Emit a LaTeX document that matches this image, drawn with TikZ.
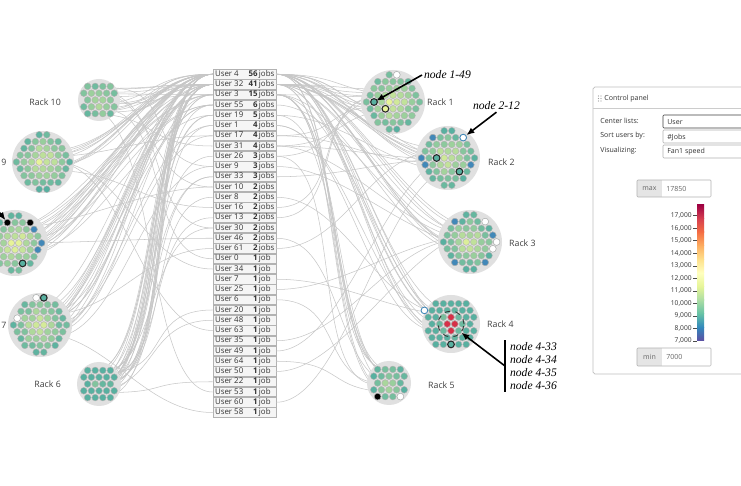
\documentclass[tikz,border=0pt]{standalone}
\usepackage{fontspec}
\setmainfont{Open Sans}
\newfontfamily\annfont{Liberation Serif}
\usepackage{xcolor}
\usepackage{tikz}
\usetikzlibrary{arrows.meta,positioning,calc}
\definecolor{rackbg}{RGB}{224,224,224}
\definecolor{dotY}{RGB}{232,244,152}
\definecolor{dotT}{RGB}{88,176,160}
\definecolor{dotB}{RGB}{66,136,184}
\definecolor{hot}{RGB}{214,48,72}
\definecolor{sp0}{HTML}{5E4FA2}
\definecolor{sp1}{HTML}{3288BD}
\definecolor{sp2}{HTML}{66C2A5}
\definecolor{sp3}{HTML}{ABDDA4}
\definecolor{sp4}{HTML}{E6F598}
\definecolor{sp5}{HTML}{FFFFBF}
\definecolor{sp6}{HTML}{FEE08B}
\definecolor{sp7}{HTML}{FDAE61}
\definecolor{sp8}{HTML}{F46D43}
\definecolor{sp9}{HTML}{D53E4F}
\definecolor{sp10}{HTML}{9E0142}
% rack: center x, center y, radius, dot limit, yellow peak
\newcommand{\drawrack}[5]{%
  \fill[rackbg] (#1,#2) circle (#3);
  \foreach \j in {-4,...,4}{
    \foreach \i in {-4,...,4}{
      \pgfmathsetmacro\dx{(\i+0.5*mod(abs(\j)+1,2))*7.6}
      \pgfmathsetmacro\dy{\j*6.8}
      \pgfmathtruncatemacro\ok{veclen(\dx,\dy)<#4}
      \ifnum\ok=1
        \pgfmathtruncatemacro\p{max(0,min(100,#5-3.4*veclen(\dx,\dy)+14*rand))}
        \draw[dotedge, fill=dotY!\p!dotT] (#1+\dx,#2+\dy) circle (3.35);
      \fi
    }
  }
}
% marked node: name, rack x, rack y, column, row, style
\newcommand{\spot}[6]{%
  \pgfmathsetmacro\sx{#2+(#4+0.5*mod(abs(#5)+1,2))*7.6}
  \pgfmathsetmacro\sy{#3+(#5)*6.8}
  \coordinate (#1) at (\sx,\sy);
  \draw[#6] (#1) circle (3.35);
}

\begin{document}
\begin{tikzpicture}[x=0.02cm, y=-0.02cm,
    wire/.style={draw=black!22, line width=0.3pt},
    rowbox/.style={draw=black!30, fill=black!4, inner xsep=0.04cm, inner ysep=0pt,
      minimum height=0.19cm, text height=3.3pt, text depth=1pt, text=black!80,
      font=\fontsize{4.5}{5}\selectfont},
    dotedge/.style={draw=black!30, line width=0.25pt},
    ringdot/.style={draw=black!85, line width=0.6pt},
    racklabel/.style={font=\fontsize{5}{6}\selectfont, text=black!75},
    ann/.style={font=\annfont\itshape\fontsize{6.6}{7.4}\selectfont, inner sep=1pt},
    pointer/.style={-{Latex[length=0.16cm,width=0.13cm]}, line width=0.9pt},
    panel/.style={font=\fontsize{4}{5}\selectfont, text=black!80, inner sep=0pt},
    field/.style={draw=black!30, rounded corners=0.5pt, line width=0.3pt}]

    \useasboundingbox (0,0) rectangle (741,486);
    \clip (0,0) rectangle (741,486);
    \fill[white] (0,0) rectangle (741,486);

    % Rack positions
    \foreach \n/\x/\y in {1/393/102, 2/448/158, 3/470/242, 4/451/324, 5/389/383,
                          6/99/384, 7/40/325, 8/15/243, 9/43/162, 10/99/100}
        \coordinate (r\n) at (\x,\y);

    % User list
    \foreach \usr/\njob/\word [count=\row] in {4/56/jobs, 32/41/jobs, 3/15/jobs, 55/6/jobs,
        19/5/jobs, 1/4/jobs, 17/4/jobs, 31/4/jobs, 26/3/jobs, 9/3/jobs, 33/3/jobs,
        10/2/jobs, 8/2/jobs, 16/2/jobs, 13/2/jobs, 30/2/jobs, 46/2/jobs, 61/2/jobs,
        0/1/job, 34/1/job, 7/1/job, 25/1/job, 6/1/job, 20/1/job, 48/1/job, 63/1/job,
        35/1/job, 49/1/job, 64/1/job, 50/1/job, 22/1/job, 53/1/job, 60/1/job, 58/1/job}
        \node[rowbox] (u\row) at (244.5,{64+10.25*\row})
            {\makebox[1.18cm]{User \usr\hfill\textbf{\njob}\,\makebox[0.3cm][l]{\word}}};

    % Job links (user -> rack)
    \pgfmathsetseed{11}
    \foreach \njob [count=\row] in {56,41,15,6,5,4,4,4,3,3,3,2,2,2,2,2,2,2,
                                    1,1,1,1,1,1,1,1,1,1,1,1,1,1,1,1} {
        \foreach \m in {1,...,\njob} {
            \pgfmathtruncatemacro\rk{random(1,10)}
            \ifnum\rk<6
                \draw[wire] (u\row.east) .. controls +(70,0) and +(-70,0)
                    .. ($(r\rk)+(rand*14,rand*14)$);
            \else
                \draw[wire] (u\row.west) .. controls +(-70,0) and +(70,0)
                    .. ($(r\rk)+(rand*14,rand*14)$);
            \fi
        }
    }

    % Racks
    \drawrack{393}{102}{32}{29}{105}
    \drawrack{448}{158}{32}{29}{95}
    \drawrack{470}{242}{32}{29}{92}
    \drawrack{451}{324}{29}{26.5}{50}
    \drawrack{389}{383}{22}{19}{62}
    \drawrack{99}{384}{22}{19}{35}
    \drawrack{40}{325}{32}{29}{95}
    \drawrack{15}{243}{33}{29}{105}
    \drawrack{43}{162}{31}{28}{100}
    \drawrack{99}{100}{21}{19}{78}

    % Marked nodes
    \spot{n149}{393}{102}{-3}{0}{ringdot, fill=dotT}
    \spot{m11}{393}{102}{-1}{1}{ringdot, fill=dotY}
    \spot{m12}{393}{102}{0}{-4}{dotedge, fill=white}
    \spot{n212}{448}{158}{2}{-3}{draw=dotB, line width=0.5pt, fill=white}
    \spot{m21}{448}{158}{-2}{-3}{dotedge, fill=dotB}
    \spot{m22}{448}{158}{-4}{0}{dotedge, fill=dotB}
    \spot{m23}{448}{158}{-3}{1}{dotedge, fill=dotB}
    \spot{m24}{448}{158}{3}{1}{dotedge, fill=dotB}
    \spot{m25}{448}{158}{-2}{0}{ringdot, fill=dotT}
    \spot{m26}{448}{158}{1}{2}{ringdot, fill=dotT}
    \spot{m31}{470}{242}{2}{-3}{dotedge, fill=white}
    \spot{m32}{470}{242}{3}{0}{dotedge, fill=white}
    \spot{m33}{470}{242}{3}{1}{dotedge, fill=white}
    \spot{m34}{470}{242}{-2}{-3}{dotedge, fill=dotB}
    \spot{m35}{470}{242}{3}{-1}{dotedge, fill=dotB}
    \spot{m36}{470}{242}{-2}{3}{dotedge, fill=dotB}
    \spot{m37}{470}{242}{2}{3}{dotedge, fill=dotB}
    \spot{n433}{451}{324}{0}{-1}{dotedge, fill=hot}
    \spot{n434}{451}{324}{-1}{0}{dotedge, fill=hot}
    \spot{n435}{451}{324}{0}{0}{dotedge, fill=hot}
    \spot{n436}{451}{324}{0}{1}{dotedge, fill=hot}
    \spot{m41}{451}{324}{-4}{-2}{draw=dotB, line width=0.5pt, fill=white}
    \spot{m42}{451}{324}{0}{3}{ringdot, fill=dotT}
    \spot{m51}{389}{383}{-2}{2}{dotedge, fill=black}
    \spot{m52}{389}{383}{1}{2}{dotedge, fill=white}
    \spot{m71}{40}{325}{-1}{-4}{dotedge, fill=white}
    \spot{m72}{40}{325}{0}{-4}{ringdot, fill=dotT}
    \spot{m73}{40}{325}{-3}{-1}{dotedge, fill=white}
    \spot{n8a}{15}{243}{-1}{-3}{dotedge, fill=black}
    \spot{n8b}{15}{243}{2}{-3}{dotedge, fill=black}
    \spot{m81}{15}{243}{2}{-2}{dotedge, fill=dotB}
    \spot{m82}{15}{243}{3}{0}{dotedge, fill=dotB}
    \spot{m83}{15}{243}{3}{1}{dotedge, fill=dotB}
    \spot{m84}{15}{243}{1}{3}{ringdot, fill=dotT}

    % Rack labels
    \node[racklabel, anchor=west] (lab1) at (421,102) {Rack 1};
    \node[racklabel, anchor=west] (lab2) at (482,162) {Rack 2};
    \node[racklabel, anchor=west] (lab3) at (503,243) {Rack 3};
    \node[racklabel, anchor=west] (lab4) at (481,324) {Rack 4};
    \node[racklabel, anchor=west] (lab5) at (422,385) {Rack 5};
    \node[racklabel, anchor=east] (lab6) at (67,384) {Rack 6};
    \node[racklabel, anchor=west, inner xsep=0pt] (lab7) at (1,325) {7};
    \node[racklabel, anchor=west, inner xsep=0pt] (lab9) at (1,162) {9};
    \node[racklabel, anchor=east] (lab10) at (67,102) {Rack 10};

    % Annotations
    \node[draw=black!80, dashed, line width=0.5pt, circle, minimum size=0.52cm] (hotzone) at (r4) {};
    \node[ann, anchor=west] (l149) at (422,75) {node 1-49};
    \node[ann, anchor=west] (l212) at (471,106) {node 2-12};
    \node[ann, anchor=west, align=left] (l43) at (508,366) {node 4-33\\node 4-34\\node 4-35\\node 4-36};
    \coordinate (tail8) at (-8,203);
    \draw[pointer, shorten >=0.05cm] (l149.west) -- (n149);
    \draw[pointer, shorten >=0.08cm] (l212.south) -- (n212);
    \draw[line width=0.9pt] ([xshift=-0.06cm]l43.north west) -- ([xshift=-0.06cm]l43.south west);
    \draw[pointer] ([xshift=-0.06cm]l43.west) -- (hotzone.-40);
    \draw[pointer, shorten >=0.06cm] (tail8) -- (n8a);

    % Control panel
    \draw[black!25, line width=0.4pt, rounded corners=1pt] (593,87) rectangle (770,374);
    \draw[black!20, line width=0.3pt] (593,108) -- (770,108);
    \foreach \gx in {598.5,601} \foreach \gy in {96,98.5,101}
        \fill[black!40] (\gx,\gy) circle (0.6);
    \node[panel, anchor=west] (ptitle) at (604,99) {Control panel};
    \node[panel, anchor=west] (pcenter) at (600,121) {Center lists:};
    \node[panel, anchor=west] (psort) at (600,136) {Sort users by:};
    \node[panel, anchor=west] (pvis) at (600,151) {Visualizing:};
    \draw[field, draw=black!75] (663,115) rectangle (770,128);
    \draw[field] (663,130) rectangle (770,143);
    \draw[field] (663,145) rectangle (770,158);
    \node[panel, anchor=west] (fcenter) at (667,122) {User};
    \node[panel, anchor=west] (fsort) at (667,137) {\#Jobs};
    \node[panel, anchor=west] (fvis) at (667,152) {Fan1 speed};

    % max / min boxes
    \fill[black!10] (637,180) rectangle (662,197);
    \draw[field] (637,180) rectangle (711,197);
    \node[panel, text=black!60] (maxl) at (649.5,188.5) {max};
    \node[panel, anchor=west, text=black!60] (maxv) at (666,188.5) {17850};
    \fill[black!10] (637,348) rectangle (662,366);
    \draw[field] (637,348) rectangle (711,366);
    \node[panel, text=black!60] (minl) at (649.5,357) {min};
    \node[panel, anchor=west, text=black!60] (minv) at (666,357) {7000};

    % Colour scale
    \foreach \s in {0,...,9} {
        \pgfmathtruncatemacro\snext{\s+1}
        \shade[bottom color=sp\s, top color=sp\snext]
            (697,{341-\s*13.6}) rectangle (704,{341-\snext*13.6-0.3});
    }
    \foreach \v in {7,...,17} {
        \pgfmathsetmacro\ty{341-(\v-7)*12.53}
        \draw[black!70, line width=0.3pt] (693,\ty) -- (697,\ty);
        \node[panel, anchor=east, font=\fontsize{3.8}{4}\selectfont] (tick\v) at (692,\ty) {\v,000};
    }
\end{tikzpicture}
\end{document}
